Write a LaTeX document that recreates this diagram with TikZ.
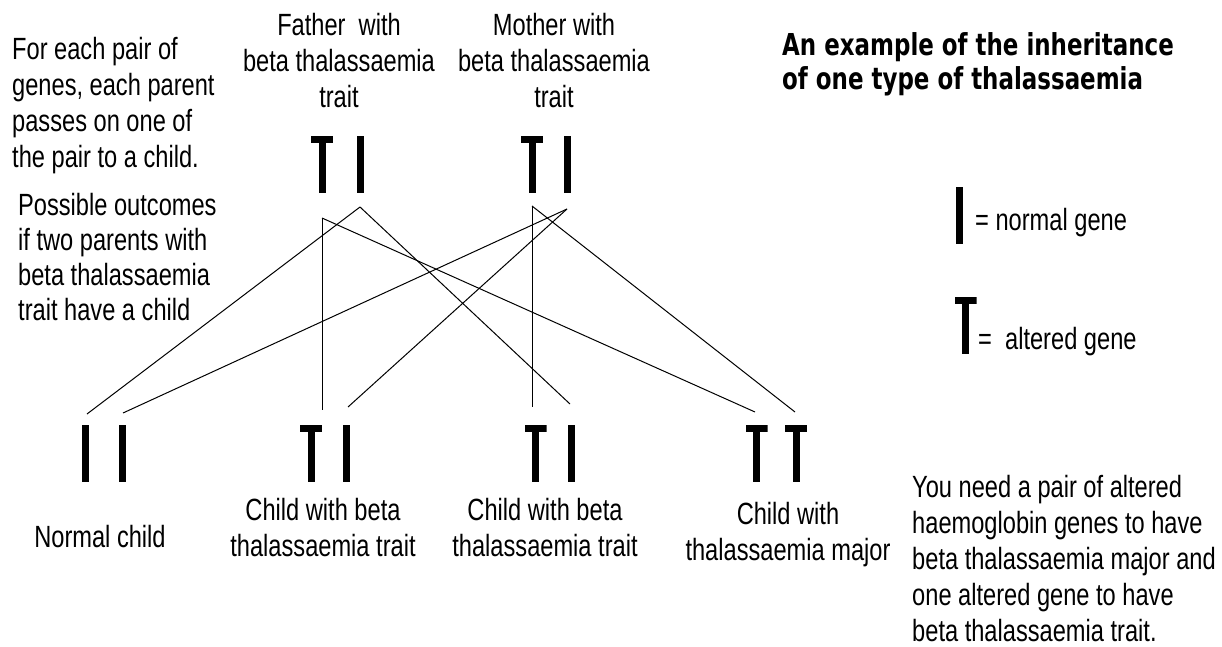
\documentclass[tikz,border=0pt]{standalone}
\usepackage{fontspec}
\usetikzlibrary{positioning}
\setmainfont{Liberation Sans}
\newfontfamily\bodyfont[FakeStretch=0.77]{Liberation Sans}
\newfontfamily\headfont[FakeStretch=0.76]{DejaVu Sans}

\begin{document}
\begin{tikzpicture}[
 x=1pt,y=-1pt,
 gene/.style={inner sep=0pt,outer sep=0pt,minimum height=57pt},
 geneI/.style={gene,minimum width=7pt,fill=black},
 geneT/.style={gene,minimum width=22pt,path picture={
   \fill (path picture bounding box.north west) rectangle ([yshift=-7pt]path picture bounding box.north east);
   \fill ([xshift=-3.5pt]path picture bounding box.north) rectangle ([xshift=3.5pt]path picture bounding box.south);}},
 link/.style={line width=1pt},
 txt/.style={inner sep=0pt,font=\fontsize{30.7pt}{36pt}\bodyfont},
 note/.style={txt,align=left,anchor=north west},
 tag/.style={txt,align=center,anchor=north}
]
\useasboundingbox (0,0) rectangle (1222,647);
% parents
\node[geneT] (fT) at (322,164.5) {};
\node[geneI,right=23.5pt of fT] (fI) {};
\node[geneT] (mT) at (532,164.5) {};
\node[geneI,right=20.5pt of mT] (mI) {};
\node[tag] (father) at (339,13) {Father\ \ with\\beta thalassaemia\\trait};
\node[tag] (mother) at (554,13) {Mother with\\beta thalassaemia\\trait};
% children
\node[geneI] (c1a) at (85.5,453.5) {};
\node[geneI,right=29.5pt of c1a] (c1b) {};
\node[geneT] (c2a) at (311,453.5) {};
\node[geneI,right=20.5pt of c2a] (c2b) {};
\node[geneT] (c3a) at (535.5,453.5) {};
\node[geneI,right=21.5pt of c3a] (c3b) {};
\node[geneT] (c4a) at (756.5,453.5) {};
\node[geneT,right=17.5pt of c4a] (c4b) {};
\node[tag] (normal) at (100,525) {Normal child};
\node[tag] (trait1) at (323,498) {Child with beta\\thalassaemia trait};
\node[tag] (trait2) at (545,498) {Child with beta\\thalassaemia trait};
\node[tag] (major) at (788,502) {Child with\\thalassaemia major};
% notes and key
\node[note] (passon) at (12,37) {For each pair of\\genes, each parent\\passes on one of\\the pair to a child.};
\node[note,font=\fontsize{30.7pt}{35pt}\bodyfont] (outcomes) at (18,193) {Possible outcomes\\if two parents with\\beta thalassaemia\\trait have a child};
\node[note,font=\fontsize{30.2pt}{34pt}\headfont\bfseries] (title) at (782,32) {An example of the inheritance\\of one type of thalassaemia};
\node[geneI] (keyI) at (959,215) {};
\node[geneT] (keyT) at (965.5,325.5) {};
\node[txt,anchor=base west] (keyItxt) at (975,230) {= normal gene};
\node[txt,anchor=base west] (keyTtxt) at (978,349) {=\ \ altered gene};
\node[note] (need) at (912,475) {You need a pair of altered\\haemoglobin genes to have\\beta thalassaemia major and\\one altered gene to have\\beta thalassaemia trait.};
% line ends
\coordinate (fT-o) at ([yshift=-25pt]fT.south);
\coordinate (fI-o) at ([yshift=-14pt]fI.south);
\coordinate (mT-o) at ([yshift=-13pt]mT.south);
\coordinate (mI-o) at ([yshift=-16pt]mI.south);
\coordinate (c1a-i) at ([xshift=1.5pt,yshift=11pt]c1a.north);
\coordinate (c1b-i) at ([xshift=1pt,yshift=12pt]c1b.north);
\coordinate (c2a-i) at ([yshift=15pt]c2a.north east);
\coordinate (c2b-i) at ([xshift=2pt,yshift=18pt]c2b.north);
\coordinate (c3a-i) at ([xshift=-3.5pt,yshift=18pt]c3a.north);
\coordinate (c3b-i) at ([xshift=-1.5pt,yshift=21pt]c3b.north);
\coordinate (c4a-i) at ([xshift=-1.5pt,yshift=13pt]c4a.north);
\coordinate (c4b-i) at ([xshift=-1pt,yshift=13pt]c4b.north);
\draw[link] (fI-o)--(c1a-i); \draw[link] (mI-o)--(c1b-i);
\draw[link] (fT-o)--(c2a-i); \draw[link] (mI-o)--(c2b-i);
\draw[link] (mT-o)--(c3a-i); \draw[link] (fI-o)--(c3b-i);
\draw[link] (fT-o)--(c4a-i); \draw[link] (mT-o)--(c4b-i);
\end{tikzpicture}
\end{document}
